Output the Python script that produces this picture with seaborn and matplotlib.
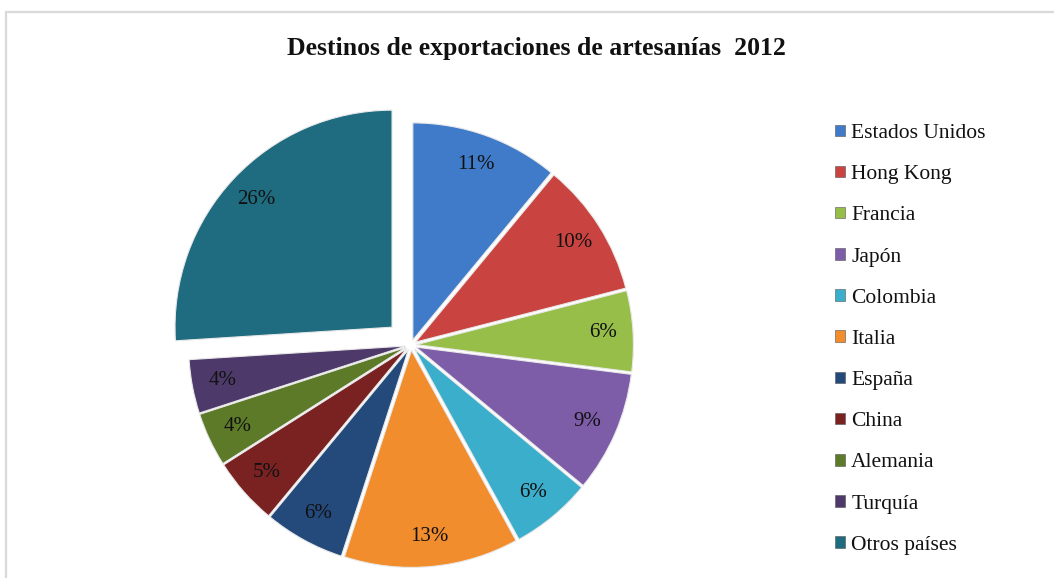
import matplotlib
matplotlib.use("Agg")
import matplotlib.pyplot as plt
import seaborn as sns
from matplotlib.patches import Patch, Rectangle

categories = ["Estados Unidos", "Hong Kong", "Francia", "Japón", "Colombia",
              "Italia", "España", "China", "Alemania", "Turquía", "Otros países"]
values = [11, 10, 6, 9, 6, 13, 6, 5, 4, 4, 26]
colors = ["#3F7BC8", "#C94441", "#98BE4A", "#7E5DA8", "#3BAECB",
          "#F28D2D", "#234A7A", "#7A2222", "#5C7A28", "#4E3A6A", "#1F6B80"]
explode = [0.025] * 10 + [0.12]
title = "Destinos de exportaciones de artesanías  2012"

sns.set_theme(style="white")
plt.rcParams["font.family"] = ["Liberation Serif", "DejaVu Serif"]

W, H = 1054, 578
fig = plt.figure(figsize=(W / 100, H / 100), dpi=100)
fig.patch.set_facecolor("white")

# frame
fig.add_artist(Rectangle((6 / W, -0.01), 1.1, (H - 12) / H + 0.01,
                         transform=fig.transFigure, fill=False,
                         edgecolor="#D9D9D9", linewidth=1.6))

cx, cy, r = 411, 345, 217
L = 1.2
side = 2 * L * r
ax = fig.add_axes([(cx - side / 2) / W, (H - cy - side / 2) / H, side / W, side / H])
wedges, texts = ax.pie(values, colors=colors, explode=explode, startangle=90,
                       counterclock=False, labels=[f"{v}%" for v in values],
                       labeldistance=0.86,
                       wedgeprops=dict(linewidth=0.8, edgecolor="#E8E8E8"),
                       textprops=dict(fontsize=15, color="#111111",
                                      ha="center", va="center"))
ax.set_xlim(-L, L)
ax.set_ylim(-L, L)
ax.set_aspect("equal")
ax.axis("off")

fig.text(536 / W, 1 - 48 / H, title, ha="center", va="center",
         fontsize=18.5, fontweight="bold", color="#111111")

handles = [Patch(facecolor=c, edgecolor="#555555", linewidth=0.4) for c in colors]
leg = fig.legend(handles, categories, loc="upper left",
                 bbox_to_anchor=(835 / W, 1 - 124 / H),
                 frameon=False, fontsize=15.5, handlelength=0.45,
                 handleheight=0.45, handletextpad=0.3, labelspacing=1.03,
                 borderaxespad=0, borderpad=0)
for t in leg.get_texts():
    t.set_color("#111111")

fig.savefig("out.png", dpi=100, facecolor="white")
